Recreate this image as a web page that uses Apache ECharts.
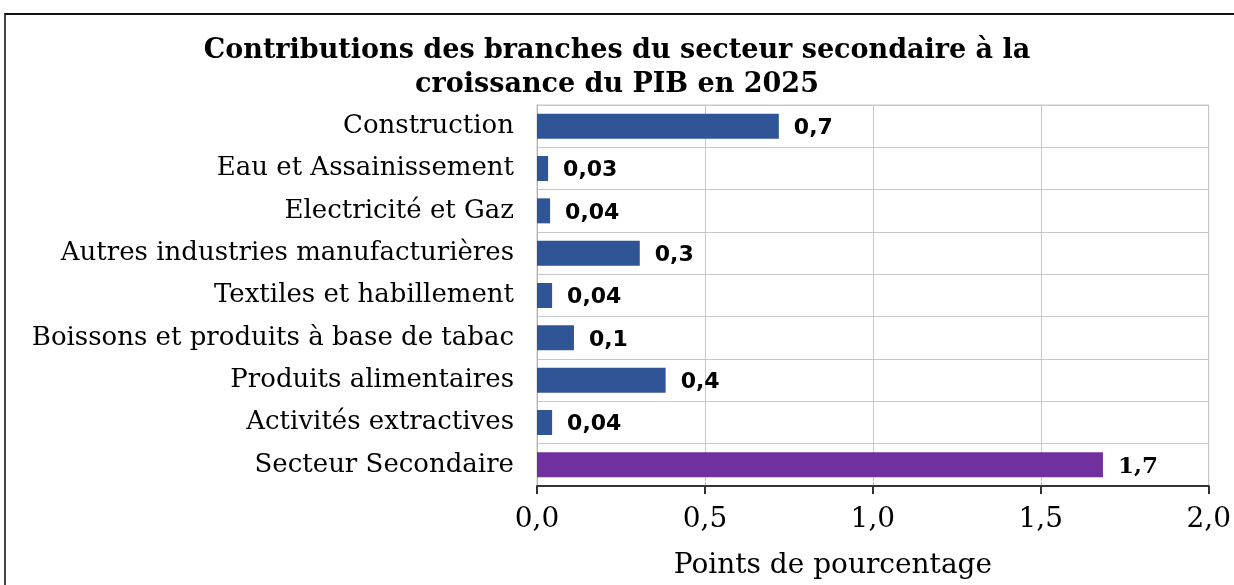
<!DOCTYPE html>
<html>
<head>
<meta charset="utf-8">
<script src="https://cdn.jsdelivr.net/npm/echarts@6/dist/echarts.min.js"></script>
<style>
  html, body { margin: 0; padding: 0; background: #fff; overflow: hidden; }
  #frame {
    position: absolute; left: 4px; top: 13px;
    width: 1260px; height: 600px;
    border-left: 2px solid #444; border-top: 2px solid #111;
  }
  #chart { position: absolute; left: 0; top: 0; width: 1234px; height: 585px; }
</style>
</head>
<body>
<div id="frame"></div>
<div id="chart"></div>
<script>
// branches, de haut en bas
var categories = [
  'Construction',
  'Eau et Assainissement',
  'Electricité et Gaz',
  'Autres industries manufacturières',
  'Textiles et habillement',
  'Boissons et produits à base de tabac',
  'Produits alimentaires',
  'Activités extractives',
  'Secteur Secondaire'
];
var values = [0.72, 0.033, 0.039, 0.306, 0.045, 0.11, 0.383, 0.045, 1.685];
var valueLabels = ['0,7', '0,03', '0,04', '0,3', '0,04', '0,1', '0,4', '0,04', '1,7'];
var xTicks = [0, 0.5, 1, 1.5, 2];

var blue = '#2F5597';
var purple = '#7030A0';
var serif = 'DejaVu Serif';

var chartDom = document.getElementById('chart');
var myChart = echarts.init(chartDom);

var data = values.map(function (v, i) {
  var total = categories[i] === 'Secteur Secondaire';
  return {
    value: v,
    itemStyle: { color: total ? purple : blue },
    label: total
      ? { fontFamily: serif, fontWeight: 'bold', fontSize: 23 }
      : { fontFamily: 'DejaVu Sans', fontWeight: 'bold', fontSize: 22 }
  };
});

var option = {
  animation: false,
  title: {
    text: 'Contributions des branches du secteur secondaire à la\ncroissance du PIB en 2025',
    left: 612,
    top: 29,
    textAlign: 'center',
    textStyle: {
      fontFamily: serif,
      fontWeight: 'bold',
      fontSize: 27,
      lineHeight: 34,
      color: '#000'
    }
  },
  grid: {
    left: 537,
    right: 24,
    top: 105,
    bottom: 98,
    show: true,
    borderColor: '#c8c8c8',
    borderWidth: 1
  },
  xAxis: {
    type: 'value',
    min: xTicks[0],
    max: xTicks[xTicks.length - 1],
    interval: 0.5,
    name: 'Points de pourcentage',
    nameLocation: 'middle',
    nameGap: 66,
    nameTextStyle: { fontFamily: serif, fontSize: 28, color: '#000', padding: [0, 80, 0, 0] },
    axisLine: { show: true, lineStyle: { color: '#333', width: 2 } },
    axisTick: { show: true, length: 8, lineStyle: { color: '#333', width: 2 } },
    axisLabel: {
      margin: 20,
      fontFamily: serif,
      fontSize: 28,
      color: '#000',
      formatter: function (v) { return v.toFixed(1).replace('.', ','); }
    },
    splitLine: { show: true, lineStyle: { color: '#c8c8c8', width: 1 } }
  },
  yAxis: {
    type: 'category',
    inverse: true,
    data: categories,
    axisLine: { show: true, lineStyle: { color: '#b0b0b0', width: 1 } },
    axisTick: { show: false },
    axisLabel: {
      margin: 23,
      fontFamily: serif,
      fontSize: 26,
      color: '#000'
    },
    splitLine: { show: true, lineStyle: { color: '#c8c8c8', width: 1 } }
  },
  series: [
    {
      type: 'bar',
      data: data,
      barWidth: 25,
      label: {
        show: true,
        position: 'right',
        distance: 15,
        offset: [0, 2],
        color: '#000',
        formatter: function (p) { return valueLabels[p.dataIndex]; }
      }
    }
  ]
};
option && myChart.setOption(option);
</script>
</body>
</html>
